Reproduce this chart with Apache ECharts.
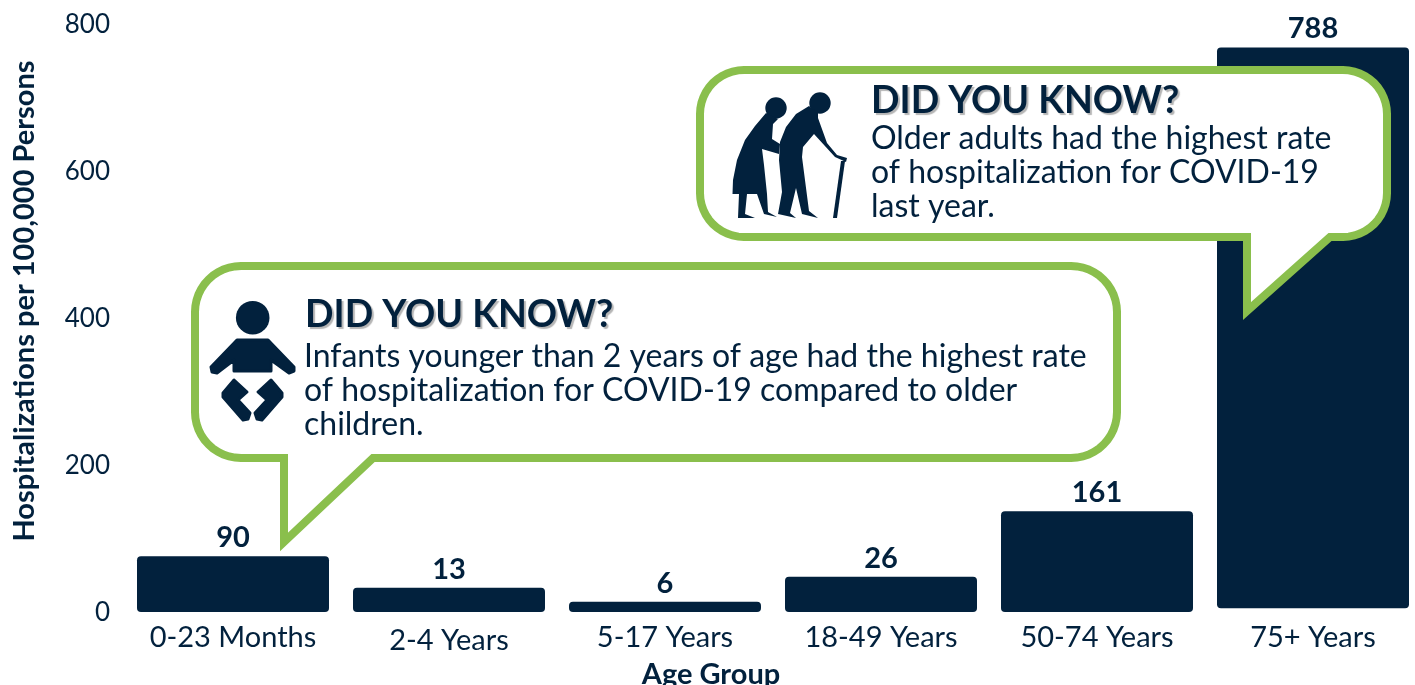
<!DOCTYPE html>
<html><head><meta charset="utf-8">
<style>html,body{margin:0;padding:0;background:#fff;overflow:hidden}#c{width:1415px;height:685px}</style>
<script src="https://cdn.jsdelivr.net/npm/echarts@6/dist/echarts.min.js"></script>
</head><body><div id="c"></div>
<script>
const categories = ['0-23 Months','2-4 Years','5-17 Years','18-49 Years','50-74 Years','75+ Years'];
const printedValues = [90,13,6,26,161,788];
// Bar heights as drawn in the picture, read against the y axis (they differ from the printed labels).
const drawnHeights = [76,33,14,48,137,763];
const drawnBases = [0,0,0,0,0,5];
const yTicks = [0,200,400,600,800];
const calloutTitle = 'DID YOU KNOW?';
const infantLines = ['Infants younger than 2 years of age had the highest rate','of hospitalization for COVID-19 compared to older','children.'];
const olderLines = ['Older adults had the highest rate','of hospitalization for COVID-19','last year.'];

const INK='#02213d', GREEN='#8abf4c', FONT='Lato, "Open Sans", sans-serif';
const chart = echarts.init(document.getElementById('c'),null,{renderer:'canvas'});

function corner(cx,cy,r,a0,a1,out){
  for(let i=0;i<=12;i++){const a=(a0+(a1-a0)*i/12)*Math.PI/180;out.push([cx+r*Math.cos(a),cy+r*Math.sin(a)]);}
}
function bubble(l,t,r,b,rad,tx,tip,tr){
  const p=[];
  corner(l+rad,t+rad,rad,180,270,p);
  corner(r-rad,t+rad,rad,270,360,p);
  corner(r-rad,b-rad,rad,0,90,p);
  p.push([tr,b],[tx,tip],[tx,b]);
  corner(l+rad,b-rad,rad,90,180,p);
  return p;
}
function textEl(t,x,y,size,bold){
  const st={text:t,x:x,y:y,fill:INK,font:(bold?'bold ':'')+size+'px '+FONT,textVerticalAlign:'middle',textAlign:'left'};
  if(bold){st.textShadowColor='rgba(90,90,90,0.45)';st.textShadowOffsetX=2;st.textShadowOffsetY=2;st.textShadowBlur=1;}
  return {type:'text',z:12,style:st};
}
const graphics=[
  {type:'polygon',z:9,shape:{points:bubble(195,266,1117,458,46,284,542,373)},
   style:{fill:'#fff',stroke:GREEN,lineWidth:8,lineJoin:'miter',miterLimit:6}},
  {type:'polygon',z:9,shape:{points:bubble(700,70,1387,237,44,1247,311,1330)},
   style:{fill:'#fff',stroke:GREEN,lineWidth:8,lineJoin:'miter',miterLimit:6}},
  // baby icon
  {type:'circle',z:10,shape:{cx:252.7,cy:317.7,r:16.8},style:{fill:INK}},
  {type:'polygon',z:10,shape:{points:[[237,340],[268,340],[294,367],[294,371],[289,373],[271,360],[271,371],[234,371],[234,360],[217,373],[212,372],[211,367]]},style:{fill:INK,stroke:INK,lineWidth:3,lineJoin:'round'}},
  {type:'polygon',z:10,shape:{points:[[234,380],[247,392],[238,400],[250,413],[248,419],[243,420],[223,397],[223,393]]},style:{fill:INK,stroke:INK,lineWidth:3,lineJoin:'round'}},
  {type:'polygon',z:10,shape:{points:[[271,380],[282,393],[282,397],[262,420],[257,419],[255,413],[267,400],[258,392]]},style:{fill:INK,stroke:INK,lineWidth:3,lineJoin:'round'}},
  // elderly icon
  {type:'circle',z:10,shape:{cx:776,cy:108,r:10.7},style:{fill:INK}},
  {type:'circle',z:10,shape:{cx:820,cy:103,r:10.7},style:{fill:INK}},
  {type:'polygon',z:10,shape:{points:[[766,113],[755,126],[745,140],[737,160],[733,180],[732.5,194],[739,194],[738,218],[755,218],[745,214],[747,194],[757,194],[764,214],[777,217],[768,212],[767,194],[764,165],[762,149],[779,154],[780,144],[772,139],[773,124],[778,119]]},style:{fill:INK}},
  {type:'polygon',z:10,shape:{points:[[809,106],[796,114],[786,127],[780,142],[779,160],[782,192],[778,214],[796,218],[790,213],[796,188],[802,214],[818,218],[809,211],[802,157],[803,147],[814,134],[835,157],[846,162],[847,158],[837,155],[827,143],[818,118],[818,113]]},style:{fill:INK}},
  {type:'polygon',z:10,shape:{points:[[841,161],[845,161],[837,218],[833,218]]},style:{fill:INK}},
  textEl(calloutTitle,305,315,37.5,true),
  textEl(calloutTitle,871,101,37.5,true)
];
infantLines.forEach((s,i)=>graphics.push(textEl(s,304,357+i*34,32,false)));
olderLines.forEach((s,i)=>graphics.push(textEl(s,871,139+i*34,32,false)));

chart.setOption({
  animation:false,
  backgroundColor:'#fff',
  grid:{left:125,right:-6,top:24,bottom:73,containLabel:false,outerBoundsMode:'none'},
  xAxis:{type:'category',data:categories,axisLine:{show:false},axisTick:{show:false},
    axisLabel:{color:INK,fontFamily:FONT,fontSize:29,margin:11,interval:0,
      formatter:v=>v==='2-4 Years'?'{low|'+v+'}':v,rich:{low:{fontSize:29,fontFamily:FONT,color:INK,padding:[3,0,0,0]}}},
    name:'Age Group',nameLocation:'middle',nameGap:45,
    nameTextStyle:{color:INK,fontFamily:FONT,fontWeight:'bold',fontSize:29,padding:[0,124,0,0]}},
  yAxis:{type:'value',min:0,max:800,interval:200,splitLine:{show:false},axisLine:{show:false},axisTick:{show:false},
    axisLabel:{color:INK,fontFamily:FONT,fontSize:26,margin:15,
      formatter:v=>yTicks.includes(v)?'{t|'+v+'}':'',rich:{t:{fontSize:26,fontFamily:FONT,color:INK,padding:[2,0,0,0]}}},
    name:'Hospitalizations per 100,000 Persons',nameLocation:'middle',nameGap:86,
    nameTextStyle:{color:INK,fontFamily:FONT,fontWeight:'bold',fontSize:29,padding:[0,0,0,34]}},
  series:[
    {type:'bar',stack:'a',barWidth:192,silent:true,data:drawnBases,itemStyle:{color:'transparent'}},
    {type:'bar',stack:'a',barWidth:192,data:drawnHeights,itemStyle:{color:INK,borderRadius:4},
     label:{show:true,position:'top',distance:4,color:INK,fontFamily:FONT,fontWeight:'bold',fontSize:29,
       formatter:p=>String(printedValues[p.dataIndex])}}
  ],
  graphic:graphics
});
</script></body></html>
